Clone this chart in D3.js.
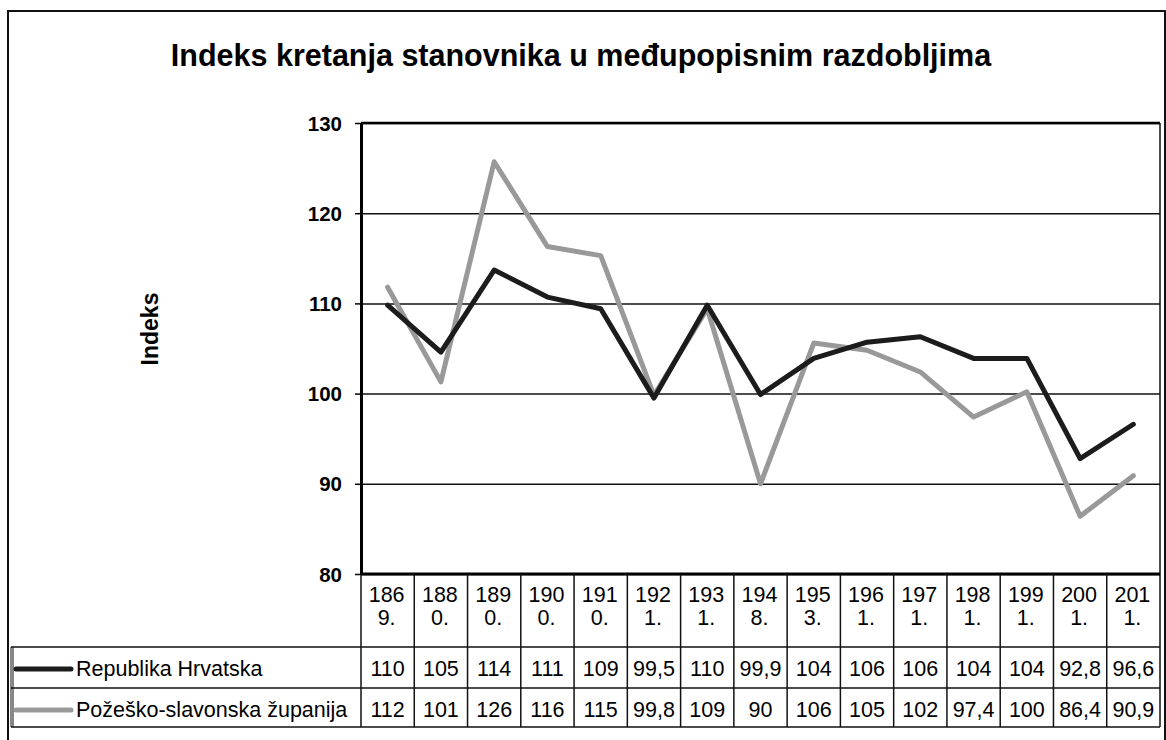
<!DOCTYPE html>
<html>
<head>
<meta charset="utf-8">
<script src="https://cdn.jsdelivr.net/npm/d3@7"></script>
<style>
  body { margin: 0; background: #fff; }
  svg { display: block; font-family: "Liberation Sans", Arial, sans-serif; }
</style>
</head>
<body>
<svg id="chart" width="1166" height="740"></svg>
<script>
// data
const categories = ["1869.", "1880.", "1890.", "1900.", "1910.", "1921.", "1931.", "1948.", "1953.", "1961.", "1971.", "1981.", "1991.", "2001.", "2011."];
const hrvatska = [109.8, 104.6, 113.7, 110.7, 109.4, 99.5, 109.8, 99.9, 103.9, 105.7, 106.3, 103.9, 103.9, 92.8, 96.6];
const pozeska = [111.8, 101.3, 125.7, 116.3, 115.3, 99.8, 109.4, 90.0, 105.6, 104.8, 102.4, 97.4, 100.2, 86.4, 90.9];
const seriesNames = ["Republika Hrvatska", "Požeško-slavonska županija"];
const seriesColors = ["#1c1c1c", "#999999"];
const yTicks = [80, 90, 100, 110, 120, 130];

const svg = d3.select("#chart");

const plot = { left: 361, right: 1160, top: 123, bottom: 574 };
const rows = { header: 647, r1: 688, r2: 727 };

const x = d3.scaleBand()
    .domain(categories)
    .range([plot.left, plot.right])
    .padding(0);

const y = d3.scaleLinear()
    .domain([80, 130])
    .range([plot.bottom, plot.top]);

const fmt = v => d3.format(".3~r")(v).replace(".", ",");

// outer frame
svg.append("rect")
    .attr("x", 8).attr("y", 11)
    .attr("width", 1157).attr("height", 760)
    .attr("fill", "none")
    .attr("stroke", "#111")
    .attr("stroke-width", 2);

// title
svg.append("text")
    .attr("x", 581)
    .attr("y", 66)
    .attr("text-anchor", "middle")
    .attr("font-size", "30.5px")
    .attr("font-weight", "bold")
    .text("Indeks kretanja stanovnika u međupopisnim razdobljima");

// gridlines
svg.append("g")
    .attr("transform", `translate(${plot.left},0)`)
    .call(d3.axisLeft(y).tickValues(yTicks).tickSize(-(plot.right - plot.left)).tickFormat(""))
    .call(g => g.select(".domain").remove())
    .call(g => g.selectAll("line").attr("stroke", "#111").attr("stroke-width", 1.5));

// y axis
svg.append("g")
    .attr("transform", `translate(${plot.left},0)`)
    .call(d3.axisLeft(y).tickValues(yTicks).tickSize(6).tickSizeOuter(0).tickPadding(13))
    .call(g => g.select(".domain").attr("stroke", "#000").attr("stroke-width", 3))
    .call(g => g.selectAll(".tick line").attr("stroke", "#000").attr("stroke-width", 1.5))
    .call(g => g.selectAll("text")
        .attr("font-family", "Liberation Sans, Arial, sans-serif")
        .attr("font-size", "20.5px")
        .attr("font-weight", "bold")
        .attr("fill", "#000")
        .attr("dy", "0.35em"));

// plot frame top / right / bottom
svg.append("line")
    .attr("x1", plot.left).attr("x2", plot.right)
    .attr("y1", plot.top).attr("y2", plot.top)
    .attr("stroke", "#000").attr("stroke-width", 2.5);
svg.append("line")
    .attr("x1", plot.right).attr("x2", plot.right)
    .attr("y1", plot.top).attr("y2", rows.r2)
    .attr("stroke", "#111").attr("stroke-width", 1.5);
svg.append("line")
    .attr("x1", plot.left).attr("x2", plot.right)
    .attr("y1", plot.bottom).attr("y2", plot.bottom)
    .attr("stroke", "#000").attr("stroke-width", 3);

// y axis title
svg.append("text")
    .attr("transform", "translate(158,329) rotate(-90)")
    .attr("text-anchor", "middle")
    .attr("font-size", "23px")
    .attr("font-weight", "bold")
    .text("Indeks");

// lines
const line = d3.line()
    .x((d, i) => x(categories[i]) + x.bandwidth() / 2)
    .y(d => y(d));

[pozeska, hrvatska].forEach(vals => {
    const idx = vals === hrvatska ? 0 : 1;
    svg.append("path")
        .datum(vals)
        .attr("fill", "none")
        .attr("stroke", seriesColors[idx])
        .attr("stroke-width", 5)
        .attr("stroke-linejoin", "round")
        .attr("stroke-linecap", "round")
        .attr("d", line);
});

// data table
const table = svg.append("g");

// horizontal rules
[rows.header, rows.r1, rows.r2].forEach(yy => {
    table.append("line")
        .attr("x1", 11).attr("x2", plot.right)
        .attr("y1", yy).attr("y2", yy)
        .attr("stroke", "#111").attr("stroke-width", 1.5);
});

// legend box left edge (double)
[11, 13].forEach(xx => {
    table.append("line")
        .attr("x1", xx).attr("x2", xx)
        .attr("y1", rows.header).attr("y2", rows.r2)
        .attr("stroke", "#111").attr("stroke-width", 1);
});

// column separators
categories.forEach(c => {
    table.append("line")
        .attr("x1", x(c)).attr("x2", x(c))
        .attr("y1", plot.bottom).attr("y2", rows.r2)
        .attr("stroke", "#111").attr("stroke-width", 1.5);
});

// category labels wrapped like the reference
table.selectAll(".cat")
    .data(categories)
    .enter()
    .append("text")
    .attr("class", "cat")
    .attr("text-anchor", "middle")
    .attr("font-size", "21.5px")
    .each(function(d) {
        const t = d3.select(this);
        const cx = x(d) + x.bandwidth() / 2 - 1;
        t.append("tspan").attr("x", cx).attr("y", 602).text(d.slice(0, 3));
        t.append("tspan").attr("x", cx).attr("y", 625).text(d.slice(3));
    });

// value rows
[hrvatska, pozeska].forEach((vals, i) => {
    const base = i === 0 ? 676 : 717;
    table.selectAll(".v" + i)
        .data(vals)
        .enter()
        .append("text")
        .attr("class", "v" + i)
        .attr("x", (d, j) => x(categories[j]) + x.bandwidth() / 2)
        .attr("y", base)
        .attr("text-anchor", "middle")
        .attr("font-size", "21.5px")
        .text(d => fmt(d));

    // legend key
    const ky = i === 0 ? 669 : 710;
    table.append("line")
        .attr("x1", 16).attr("x2", 71)
        .attr("y1", ky).attr("y2", ky)
        .attr("stroke", seriesColors[i])
        .attr("stroke-width", 5)
        .attr("stroke-linecap", "round");
    table.append("text")
        .attr("x", 76)
        .attr("y", base)
        .attr("font-size", "21.5px")
        .text(seriesNames[i]);
});
</script>
</body>
</html>
